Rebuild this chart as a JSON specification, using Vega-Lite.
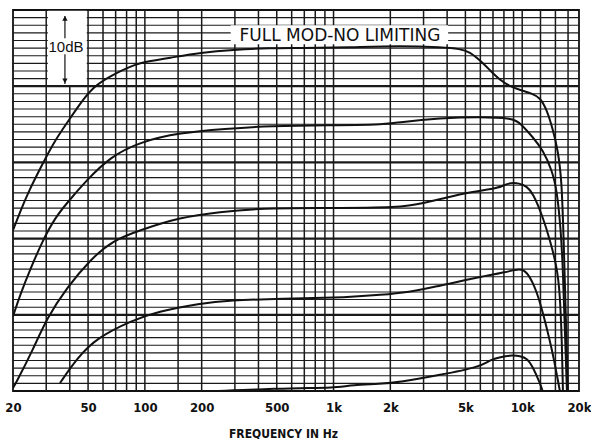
{
  "$schema": "https://vega.github.io/schema/vega-lite/v6.json",
  "width": 566,
  "height": 381,
  "autosize": {"type": "none"},
  "padding": {"left": 13, "top": 10, "right": 12, "bottom": 48},
  "background": "white",
  "config": {"view": {"stroke": "#111", "strokeWidth": 1.8}},
  "datasets": {
    "one": [{}],
    "hgrid": [
      {"db": 1}, {"db": 2}, {"db": 3}, {"db": 4}, {"db": 5}, {"db": 6}, {"db": 7}, {"db": 8}, {"db": 9}, {"db": 10},
      {"db": 11}, {"db": 12}, {"db": 13}, {"db": 14}, {"db": 15}, {"db": 16}, {"db": 17}, {"db": 18}, {"db": 19}, {"db": 20},
      {"db": 21}, {"db": 22}, {"db": 23}, {"db": 24}, {"db": 25}, {"db": 26}, {"db": 27}, {"db": 28}, {"db": 29}, {"db": 30},
      {"db": 31}, {"db": 32}, {"db": 33}, {"db": 34}, {"db": 35}, {"db": 36}, {"db": 37}, {"db": 38}, {"db": 39}, {"db": 40},
      {"db": 41}, {"db": 42}, {"db": 43}, {"db": 44}, {"db": 45}, {"db": 46}, {"db": 47}, {"db": 48}, {"db": 49}
    ],
    "vgrid": [
      {"f": 30}, {"f": 40}, {"f": 50}, {"f": 60}, {"f": 70}, {"f": 80}, {"f": 90},
      {"f": 100}, {"f": 150}, {"f": 200}, {"f": 300}, {"f": 400}, {"f": 500}, {"f": 600}, {"f": 700}, {"f": 800}, {"f": 900},
      {"f": 1000}, {"f": 2000}, {"f": 3000}, {"f": 4000}, {"f": 5000}, {"f": 6000}, {"f": 7000}, {"f": 8000}, {"f": 9000},
      {"f": 10000}, {"f": 12500}, {"f": 15000}, {"f": 17500}
    ],
    "curves": [
      {"c": "a", "f": 20, "db": 21.1}, {"c": "a", "f": 21.8, "db": 23.5}, {"c": "a", "f": 24, "db": 26.0},
      {"c": "a", "f": 28.8, "db": 29.9}, {"c": "a", "f": 33.4, "db": 32.9}, {"c": "a", "f": 38.7, "db": 35.2},
      {"c": "a", "f": 45.3, "db": 37.7}, {"c": "a", "f": 53.1, "db": 39.9}, {"c": "a", "f": 65.3, "db": 41.3},
      {"c": "a", "f": 86.5, "db": 42.8}, {"c": "a", "f": 106, "db": 43.3}, {"c": "a", "f": 141, "db": 43.8},
      {"c": "a", "f": 196, "db": 44.4}, {"c": "a", "f": 293, "db": 44.8}, {"c": "a", "f": 460, "db": 45.0},
      {"c": "a", "f": 663, "db": 45.0}, {"c": "a", "f": 1222, "db": 45.1}, {"c": "a", "f": 2249, "db": 45.3},
      {"c": "a", "f": 3801, "db": 45.1}, {"c": "a", "f": 4677, "db": 44.9}, {"c": "a", "f": 5286, "db": 44.5},
      {"c": "a", "f": 5971, "db": 43.4}, {"c": "a", "f": 6745, "db": 42.1}, {"c": "a", "f": 7620, "db": 40.8},
      {"c": "a", "f": 8609, "db": 40.0}, {"c": "a", "f": 9729, "db": 39.5}, {"c": "a", "f": 11400, "db": 39.0},
      {"c": "a", "f": 12420, "db": 38.5}, {"c": "a", "f": 13520, "db": 36.9}, {"c": "a", "f": 14550, "db": 34.3},
      {"c": "a", "f": 15450, "db": 31.6}, {"c": "a", "f": 16220, "db": 27.7}, {"c": "a", "f": 16640, "db": 18.5},
      {"c": "a", "f": 17060, "db": 9.3}, {"c": "a", "f": 17460, "db": 0},

      {"c": "b", "f": 20, "db": 9.8}, {"c": "b", "f": 21.8, "db": 12.6}, {"c": "b", "f": 24.6, "db": 15.9},
      {"c": "b", "f": 28.8, "db": 19.8}, {"c": "b", "f": 33.4, "db": 22.7}, {"c": "b", "f": 38.7, "db": 24.7},
      {"c": "b", "f": 49.3, "db": 27.7}, {"c": "b", "f": 65.3, "db": 30.7}, {"c": "b", "f": 94.2, "db": 32.7},
      {"c": "b", "f": 153.5, "db": 33.9}, {"c": "b", "f": 266, "db": 34.4}, {"c": "b", "f": 460, "db": 34.8},
      {"c": "b", "f": 957, "db": 34.9}, {"c": "b", "f": 1762, "db": 34.9}, {"c": "b", "f": 2249, "db": 35.3},
      {"c": "b", "f": 3665, "db": 35.8}, {"c": "b", "f": 5971, "db": 36.0}, {"c": "b", "f": 8931, "db": 35.8},
      {"c": "b", "f": 9729, "db": 35.2}, {"c": "b", "f": 11400, "db": 33.3}, {"c": "b", "f": 12885, "db": 31.6},
      {"c": "b", "f": 14360, "db": 29.0}, {"c": "b", "f": 15270, "db": 26.4}, {"c": "b", "f": 16030, "db": 21.1},
      {"c": "b", "f": 16440, "db": 15.9}, {"c": "b", "f": 16830, "db": 8.0}, {"c": "b", "f": 17260, "db": 0},

      {"c": "c", "f": 20, "db": 0.4}, {"c": "c", "f": 20.5, "db": 0.8}, {"c": "c", "f": 25.5, "db": 5.4},
      {"c": "c", "f": 30.3, "db": 9.6}, {"c": "c", "f": 38.7, "db": 13.6}, {"c": "c", "f": 51.2, "db": 17.2},
      {"c": "c", "f": 67.8, "db": 19.8}, {"c": "c", "f": 94.2, "db": 21.1}, {"c": "c", "f": 153.5, "db": 22.8},
      {"c": "c", "f": 250, "db": 23.5}, {"c": "c", "f": 407, "db": 24.0}, {"c": "c", "f": 957, "db": 24.0},
      {"c": "c", "f": 2249, "db": 24.1}, {"c": "c", "f": 2871, "db": 24.5}, {"c": "c", "f": 5095, "db": 26.1},
      {"c": "c", "f": 7620, "db": 26.6}, {"c": "c", "f": 8299, "db": 27.3}, {"c": "c", "f": 9729, "db": 27.3},
      {"c": "c", "f": 10591, "db": 26.8}, {"c": "c", "f": 11400, "db": 26.0}, {"c": "c", "f": 12885, "db": 22.8},
      {"c": "c", "f": 14030, "db": 19.8}, {"c": "c", "f": 15270, "db": 16.3}, {"c": "c", "f": 15840, "db": 12.9},
      {"c": "c", "f": 16220, "db": 6.7}, {"c": "c", "f": 16440, "db": 0},

      {"c": "d", "f": 35.5, "db": 1.05}, {"c": "d", "f": 43.7, "db": 4.3}, {"c": "d", "f": 55.7, "db": 7.0},
      {"c": "d", "f": 86.5, "db": 9.3}, {"c": "d", "f": 115.9, "db": 10.4}, {"c": "d", "f": 195.9, "db": 11.5},
      {"c": "d", "f": 282.5, "db": 11.9}, {"c": "d", "f": 520, "db": 12.1}, {"c": "d", "f": 1222, "db": 12.3},
      {"c": "d", "f": 1762, "db": 12.6}, {"c": "d", "f": 2541, "db": 13.0}, {"c": "d", "f": 3365, "db": 13.6},
      {"c": "d", "f": 5971, "db": 15.0}, {"c": "d", "f": 8299, "db": 15.6}, {"c": "d", "f": 9729, "db": 16.1},
      {"c": "d", "f": 10591, "db": 15.6}, {"c": "d", "f": 11400, "db": 14.2}, {"c": "d", "f": 12420, "db": 11.9},
      {"c": "d", "f": 14550, "db": 5.0}, {"c": "d", "f": 15450, "db": 1.4}, {"c": "d", "f": 15840, "db": 0},

      {"c": "e", "f": 167, "db": -0.66}, {"c": "e", "f": 196, "db": -0.13}, {"c": "e", "f": 293, "db": 0.13},
      {"c": "e", "f": 460, "db": 0.26}, {"c": "e", "f": 663, "db": 0.39}, {"c": "e", "f": 993, "db": 0.39},
      {"c": "e", "f": 1268, "db": 0.79}, {"c": "e", "f": 1762, "db": 0.92}, {"c": "e", "f": 2249, "db": 1.18},
      {"c": "e", "f": 3665, "db": 2.1}, {"c": "e", "f": 5971, "db": 3.15}, {"c": "e", "f": 6745, "db": 4.07},
      {"c": "e", "f": 7620, "db": 4.46}, {"c": "e", "f": 8931, "db": 4.72}, {"c": "e", "f": 9729, "db": 4.59},
      {"c": "e", "f": 10591, "db": 4.33}, {"c": "e", "f": 11400, "db": 3.15}, {"c": "e", "f": 12420, "db": 1.05},
      {"c": "e", "f": 12885, "db": -0.13}
    ]
  },
  "layer": [
    {
      "data": {"name": "hgrid"},
      "mark": {"type": "rule", "color": "#1a1a1a"},
      "encoding": {
        "y": {"field": "db", "type": "quantitative", "scale": {"domain": [0, 50], "nice": false, "zero": false}, "axis": null},
        "strokeWidth": {"condition": {"test": "datum.db % 10 === 0", "value": 2.2}, "value": 1.1}
      }
    },
    {
      "data": {"name": "vgrid"},
      "mark": {"type": "rule", "color": "#1a1a1a", "strokeWidth": 1.5},
      "encoding": {
        "x": {
          "field": "f", "type": "quantitative",
          "scale": {"type": "log", "domain": [20, 20000], "nice": false},
          "axis": {
            "values": [20, 50, 100, 200, 500, 1000, 2000, 5000, 10000, 20000],
            "labelExpr": "datum.value >= 1000 ? (datum.value / 1000) + 'k' : '' + datum.value",
            "domain": false, "ticks": false, "tickSize": 0, "grid": false,
            "labelFont": "DejaVu Sans Condensed, sans-serif",
            "labelFontWeight": "bold", "labelFontSize": 13, "labelColor": "#111",
            "labelPadding": 10, "labelOverlap": false, "labelFlush": false, "labelBound": false,
            "title": "FREQUENCY IN Hz",
            "titleFont": "DejaVu Sans Condensed, sans-serif",
            "titleFontWeight": "bold", "titleFontSize": 12, "titleColor": "#111",
            "titleX": 270, "titleY": 42, "titleAlign": "center", "titleBaseline": "middle"
          }
        }
      }
    },
    {
      "data": {"name": "one"},
      "mark": {"type": "rect", "color": "white"},
      "encoding": {
        "x": {"datum": 30.6, "type": "quantitative"},
        "x2": {"datum": 49.2},
        "y": {"datum": 49.9, "type": "quantitative"},
        "y2": {"datum": 40.15}
      }
    },
    {
      "data": {"name": "one"},
      "mark": {"type": "rect", "color": "white"},
      "encoding": {
        "x": {"datum": 285, "type": "quantitative"},
        "x2": {"datum": 4050},
        "y": {"datum": 48.0, "type": "quantitative"},
        "y2": {"datum": 45.5}
      }
    },
    {
      "data": {"name": "one"},
      "mark": {"type": "text", "text": "FULL MOD-NO LIMITING", "font": "DejaVu Sans", "fontSize": 17, "color": "#111", "align": "center", "baseline": "middle"},
      "encoding": {
        "x": {"datum": 1081, "type": "quantitative"},
        "y": {"datum": 46.6, "type": "quantitative"}
      }
    },
    {
      "data": {"name": "one"},
      "mark": {"type": "text", "text": "10dB", "font": "Liberation Sans", "fontSize": 15, "color": "#111", "align": "center", "baseline": "middle"},
      "encoding": {
        "x": {"datum": 38.2, "type": "quantitative"},
        "y": {"datum": 45.2, "type": "quantitative"}
      }
    },
    {
      "data": {"name": "one"},
      "mark": {"type": "rule", "color": "#111", "strokeWidth": 1.2},
      "encoding": {
        "x": {"datum": 37.7, "type": "quantitative"},
        "y": {"datum": 49.2, "type": "quantitative"},
        "y2": {"datum": 46.3}
      }
    },
    {
      "data": {"name": "one"},
      "mark": {"type": "rule", "color": "#111", "strokeWidth": 1.2},
      "encoding": {
        "x": {"datum": 37.7, "type": "quantitative"},
        "y": {"datum": 44.2, "type": "quantitative"},
        "y2": {"datum": 40.3}
      }
    },
    {
      "data": {"name": "one"},
      "mark": {"type": "point", "shape": "triangle-up", "filled": true, "color": "#111", "size": 28, "opacity": 1},
      "encoding": {
        "x": {"datum": 37.7, "type": "quantitative"},
        "y": {"datum": 48.9, "type": "quantitative"}
      }
    },
    {
      "data": {"name": "one"},
      "mark": {"type": "point", "shape": "triangle-down", "filled": true, "color": "#111", "size": 28, "opacity": 1},
      "encoding": {
        "x": {"datum": 37.7, "type": "quantitative"},
        "y": {"datum": 40.7, "type": "quantitative"}
      }
    },
    {
      "data": {"name": "curves"},
      "mark": {"type": "line", "color": "#111", "strokeWidth": 2, "interpolate": "basis", "clip": true},
      "encoding": {
        "x": {"field": "f", "type": "quantitative"},
        "y": {"field": "db", "type": "quantitative"},
        "detail": {"field": "c"}
      }
    }
  ]
}
